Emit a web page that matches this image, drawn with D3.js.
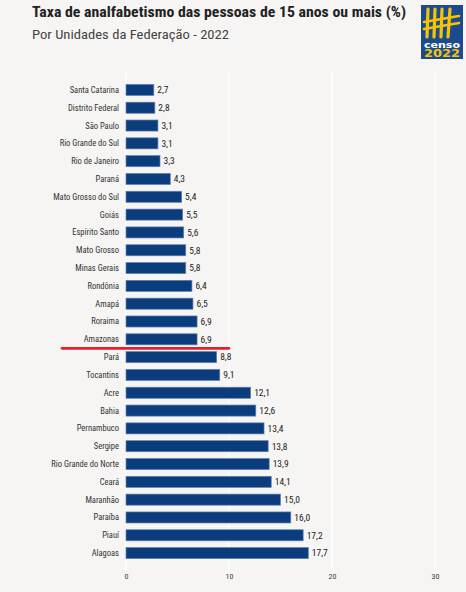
<!DOCTYPE html>
<html><head><meta charset="utf-8">
<script src="https://cdn.jsdelivr.net/npm/d3@7"></script>
<style>
html,body{margin:0;padding:0;background:#f6f5f3;}
svg{display:block;}
</style></head>
<body>
<script>
const categories = ["Santa Catarina","Distrito Federal","São Paulo","Rio Grande do Sul","Rio de Janeiro","Paraná","Mato Grosso do Sul","Goiás","Espírito Santo","Mato Grosso","Minas Gerais","Rondônia","Amapá","Roraima","Amazonas","Pará","Tocantins","Acre","Bahia","Pernambuco","Sergipe","Rio Grande do Norte","Ceará","Maranhão","Paraíba","Piauí","Alagoas"];
const values = [2.7,2.8,3.1,3.1,3.3,4.3,5.4,5.5,5.6,5.8,5.8,6.4,6.5,6.9,6.9,8.8,9.1,12.1,12.6,13.4,13.8,13.9,14.1,15.0,16.0,17.2,17.7];
const xTicks = [0,10,20,30];
const highlighted = "Amazonas";
const title = "Taxa de analfabetismo das pessoas de 15 anos ou mais (%)";
const subtitle = "Por Unidades da Federação - 2022";

const W = 466, H = 592;
const narrow = "'Liberation Sans Narrow','Roboto Condensed','Arial Narrow',Roboto,sans-serif";
const svg = d3.select("body").append("svg").attr("width", W).attr("height", H);
svg.append("rect").attr("width", W).attr("height", H).attr("fill", "#f6f5f3");

const x = d3.scaleLinear().domain([0, 30]).range([126, 435]);
const y = d3.scaleBand().domain(categories).range([81, 562]).paddingInner(0.38).paddingOuter(0.19);

// gridlines
svg.append("g").selectAll("line").data(xTicks).join("line")
  .attr("x1", d => x(d)).attr("x2", d => x(d))
  .attr("y1", 72).attr("y2", 570)
  .attr("stroke", "#ffffff").attr("stroke-width", 1.2);

// bars
svg.append("g").selectAll("rect").data(categories).join("rect")
  .attr("x", x(0))
  .attr("y", d => y(d))
  .attr("width", (d, i) => x(values[i]) - x(0))
  .attr("height", y.bandwidth())
  .attr("fill", "#0b3c7c")
  .attr("stroke", "#5d80b4").attr("stroke-width", 0.7);

// value labels
svg.append("g").selectAll("text").data(categories).join("text")
  .attr("x", (d, i) => x(values[i]) + 3.5)
  .attr("y", d => y(d) + y.bandwidth() / 2)
  .attr("dy", "0.35em")
  .attr("font-family", narrow).attr("font-size", 9.5).attr("fill", "#222")
  .text((d, i) => d3.format(".1f")(values[i]).replace(".", ","));

// category labels
svg.append("g").selectAll("text").data(categories).join("text")
  .attr("x", 119)
  .attr("y", d => y(d) + y.bandwidth() / 2)
  .attr("dy", "0.35em")
  .attr("text-anchor", "end")
  .attr("font-family", narrow).attr("font-size", 8.5).attr("fill", "#333")
  .text(d => d);

// highlight line
svg.append("line")
  .attr("x1", 62).attr("x2", 229)
  .attr("y1", y(highlighted) + y.bandwidth() + 3.5).attr("y2", y(highlighted) + y.bandwidth() + 3.5)
  .attr("stroke", "#e3202b").attr("stroke-width", 2.6).attr("stroke-linecap", "round");

// x axis
const xAxis = d3.axisBottom(x).tickValues(xTicks).tickSize(0).tickPadding(0).tickFormat(d3.format("d"));
const ax = svg.append("g").attr("transform", "translate(0,573)").call(xAxis);
ax.select(".domain").remove();
ax.selectAll("text").attr("font-family", narrow).attr("font-size", 8).attr("fill", "#444");

// title
function fitText(sel, target) {
  const len = sel.node().getComputedTextLength();
  if (Math.abs(len - target) > 2) sel.attr("textLength", target).attr("lengthAdjust", "spacingAndGlyphs");
}
const t1 = svg.append("text").attr("x", 32).attr("y", 17)
  .attr("font-family", narrow).attr("font-weight", "bold").attr("font-size", 15.5).attr("fill", "#222")
  .text(title);
fitText(t1, 374);
const t2 = svg.append("text").attr("x", 32).attr("y", 38.5)
  .attr("font-family", narrow).attr("font-size", 13).attr("fill", "#444")
  .text(subtitle);
fitText(t2, 197);

// logo
const logo = svg.append("g");
logo.append("rect").attr("x", 421).attr("y", 5).attr("width", 42).attr("height", 54).attr("fill", "#1b4b8e");
const yellow = "#f6c500";
[[428,9,427,37],[435,9,434,37],[442,9,441,37],[450,9,448,37]].forEach(p => {
  logo.append("line").attr("x1", p[0]).attr("y1", p[1]).attr("x2", p[2]).attr("y2", p[3])
    .attr("stroke", yellow).attr("stroke-width", 3.2).attr("stroke-linecap", "round");
});
[[424,22,459,16],[424,29,459,23]].forEach(p => {
  logo.append("line").attr("x1", p[0]).attr("y1", p[1]).attr("x2", p[2]).attr("y2", p[3])
    .attr("stroke", yellow).attr("stroke-width", 2.6).attr("stroke-linecap", "round");
});
logo.append("text").attr("x", 442).attr("y", 47.5).attr("text-anchor", "middle")
  .attr("font-family", "DejaVu Sans").attr("font-weight", "bold").attr("font-size", 9.5).attr("fill", "#ffffff")
  .attr("textLength", 36).attr("lengthAdjust", "spacingAndGlyphs").text("censo");
logo.append("text").attr("x", 442).attr("y", 57).attr("text-anchor", "middle")
  .attr("font-family", "DejaVu Sans").attr("font-weight", "bold").attr("font-size", 10).attr("fill", yellow)
  .attr("textLength", 36).attr("lengthAdjust", "spacingAndGlyphs").text("2022");
</script>
</body></html>
